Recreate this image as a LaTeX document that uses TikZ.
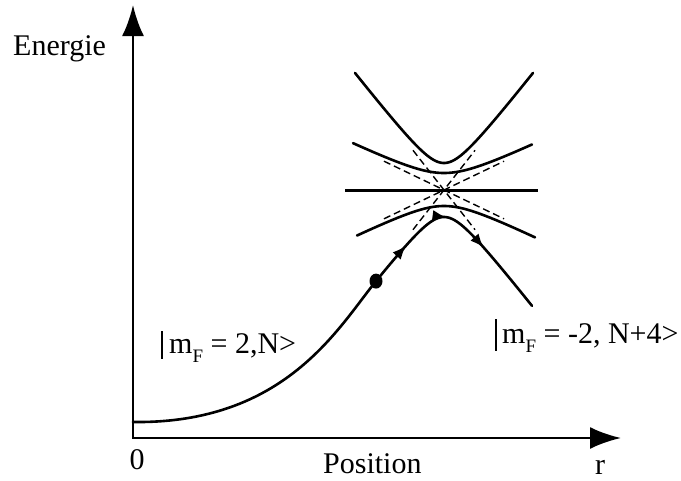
\documentclass[tikz,border=0pt]{standalone}
\usepackage{fontspec}
\setmainfont{Liberation Serif}
\usetikzlibrary{arrows.meta,decorations.markings}
\newcommand{\mysubF}{\raisebox{-9pt}{\fontsize{19}{19}\selectfont F}}
\begin{document}
\begin{tikzpicture}[x=1pt,y=-1pt,
  axes/.style={line width=2.8pt,line join=miter,
    {Latex[length=31pt,width=22pt]}-{Latex[length=31pt,width=22pt]}},
  curve/.style={line width=2.6pt,line cap=round},
  hline/.style={line width=3pt},
  asym/.style={line width=1.4pt,dash pattern=on 7pt off 4pt},
  lbl/.style={inner sep=0pt,font=\fontsize{30}{36}\selectfont},
  stlbl/.style={inner sep=0pt,font=\fontsize{30}{36}\selectfont},
  bar/.style={line width=1.6pt},
  traj/.style={curve,postaction={decorate},
    decoration={markings,
      mark=at position 0.21 with {\arrow{Latex[length=14pt,width=11pt]}},
      mark=at position 0.44 with {\arrow{Latex[length=14pt,width=11pt]}},
      mark=at position 0.66 with {\arrow{Latex[length=14pt,width=11pt]}}}}
]
\useasboundingbox (0,0) rectangle (681,480);
% axes
\coordinate (O) at (133,438);
\coordinate (ytip) at (133,5);
\coordinate (xtip) at (621,438);
\draw[axes] (ytip) -- (O) -- (xtip);
% axis labels
\node[lbl,anchor=base west] (energie) at (13,55) {Energie};
\node[lbl,anchor=base] (zero) at (137,469) {0};
\node[lbl,anchor=base west] (position) at (323,473) {Position};
\node[lbl,anchor=base west] (rlabel) at (595,474) {r};
% dashed asymptotes through the crossing point
\coordinate (C) at (444,190);
\draw[asym] (384,218.8) -- (504,161.2);
\draw[asym] (384,161.2) -- (504,218.8);
\draw[asym] (413,150.3) -- (475,229.7);
\draw[asym] (413,229.7) -- (475,150.3);
% horizontal level
\draw[hline] (345,190) -- (538,190);
% upper hyperbola
\draw[curve] plot[variable=\t,domain=-89:89,samples=90]
  ({444+\t},{190-sqrt((1.28*\t)*(1.28*\t)+729)});
% inner curves
\draw[curve] plot[variable=\t,domain=-91:88,samples=90]
  ({444+\t},{190-sqrt((0.48*\t)*(0.48*\t)+289)});
\draw[curve] plot[variable=\t,domain=-87:91,samples=90]
  ({444+\t},{190+sqrt((0.49*\t)*(0.49*\t)+256)});
% trajectory
\coordinate (start) at (133,422);
\coordinate (dotpt) at (376,281.1);
\draw[curve] (start) .. controls (285,424) and (338,328) .. (dotpt);
\draw[traj] plot[variable=\t,domain=-68:88,samples=100]
  ({444+\t},{190+sqrt((1.28*\t)*(1.28*\t)+729)});
\fill (dotpt) ellipse [x radius=6.5pt,y radius=7.5pt];
% state labels
\draw[bar] (162,331) -- (162,359);
\node[stlbl,anchor=base west] (stateA) at (169,353) {m\mysubF\ = 2,N>};
\draw[bar] (496,319) -- (496,351);
\node[stlbl,anchor=base west] (stateB) at (502,343) {m\mysubF\ = -2, N+4>};
\end{tikzpicture}
\end{document}
